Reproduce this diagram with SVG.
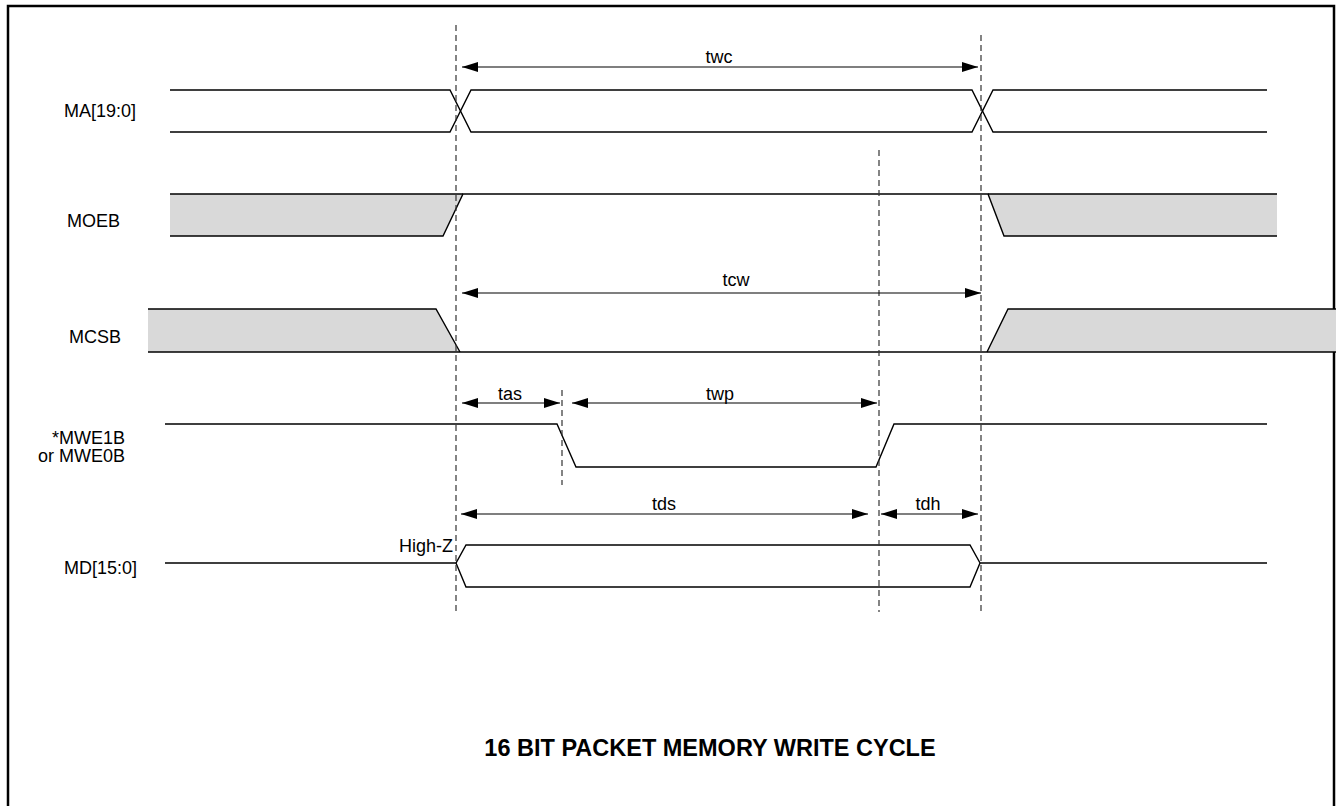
<svg xmlns="http://www.w3.org/2000/svg" width="1336" height="806" viewBox="0 0 1336 806">
<defs>
<marker id="ah" viewBox="0 0 16 10" refX="16" refY="5" markerWidth="16" markerHeight="10" markerUnits="userSpaceOnUse" orient="auto-start-reverse">
<path d="M0,0 L16,5 L0,10 Z" fill="#000"/>
</marker>
<style>
.sig{fill:none;stroke:#000;stroke-width:1.4}
.gray{fill:#d9d9d9;stroke:none}
.dash{stroke:#333;stroke-width:1.2;stroke-dasharray:6,4;fill:none}
.dim{stroke:#000;stroke-width:1.2;fill:none;marker-start:url(#ah);marker-end:url(#ah)}
.lbl{font-family:"Liberation Sans",Arial,sans-serif;font-size:18px;fill:#000}
.mid{text-anchor:middle}
.title{font-family:"Liberation Sans",Arial,sans-serif;font-size:23.5px;font-weight:bold;text-anchor:middle}
</style>
</defs>
<rect width="1336" height="806" fill="#fff"/>
<rect id="frame" x="8" y="6" width="1326" height="820" fill="none" stroke="#000" stroke-width="2.5"/>

<g id="MA">
<text class="lbl" x="64" y="117">MA[19:0]</text>
<path class="sig" d="M170,90 H450 L471,132 H972 L993,90 H1267"/>
<path class="sig" d="M170,132 H450 L471,90 H972 L993,132 H1267"/>
</g>

<g id="MOEB">
<text class="lbl" x="67" y="227">MOEB</text>
<polygon class="gray" points="170,194 463,194 443,236 170,236"/>
<polygon class="gray" points="988,194 1277,194 1277,236 1004,236"/>
<path class="sig" d="M170,236 H443 L463,194 H988 L1004,236 H1277"/>
<path class="sig" d="M170,194 H463 M988,194 H1277"/>
</g>

<g id="MCSB">
<text class="lbl" x="69" y="343">MCSB</text>
<polygon class="gray" points="148,309 436,309 460,352 148,352"/>
<polygon class="gray" points="1008,309 1336,309 1336,352 987,352"/>
<path class="sig" d="M148,309 H436 L460,352 M987,352 L1008,309 H1336"/>
<path class="sig" d="M148,352 H1336"/>
</g>

<g id="MWE">
<text class="lbl" x="125" y="444" text-anchor="end">*MWE1B</text>
<text class="lbl" x="125" y="462" text-anchor="end">or MWE0B</text>
<path class="sig" d="M165,424 H557 L576,467 H876 L894,424 H1267"/>
</g>

<g id="MD">
<text class="lbl" x="64" y="574">MD[15:0]</text>
<text class="lbl" x="453" y="552" text-anchor="end">High-Z</text>
<path class="sig" d="M165,563 H456 L466,545 H970 L980,563 L970,587 H466 L456,563 M980,563 H1267"/>
</g>

<g id="connectors">
<line class="dash" x1="456" y1="25" x2="456" y2="612"/>
<line class="dash" x1="981" y1="35" x2="981" y2="612"/>
<line class="dash" x1="879" y1="150" x2="879" y2="612"/>
<line class="dash" x1="562" y1="390" x2="562" y2="485"/>
<line class="dim" x1="462" y1="67" x2="978" y2="67"/>
<line class="dim" x1="462" y1="293" x2="981" y2="293"/>
<line class="dim" x1="462" y1="403" x2="560" y2="403"/>
<line class="dim" x1="572" y1="403" x2="877" y2="403"/>
<line class="dim" x1="461" y1="514" x2="868" y2="514"/>
<line class="dim" x1="881" y1="514" x2="978" y2="514"/>
</g>

<g id="dimlabels">
<text class="lbl mid" x="719" y="63">twc</text>
<text class="lbl mid" x="736" y="286">tcw</text>
<text class="lbl mid" x="510" y="400">tas</text>
<text class="lbl mid" x="720" y="400">twp</text>
<text class="lbl mid" x="664" y="510">tds</text>
<text class="lbl mid" x="928" y="510">tdh</text>
</g>

<text class="title" x="710" y="756">16 BIT PACKET MEMORY WRITE CYCLE</text>
</svg>
